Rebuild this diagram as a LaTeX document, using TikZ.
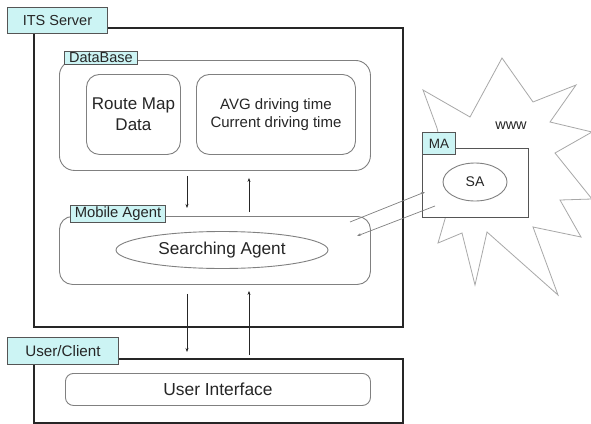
\documentclass[tikz,border=0pt]{standalone}
\usepackage{fontspec}
\setmainfont{Liberation Sans}
\usetikzlibrary{arrows.meta,shapes.geometric}
\definecolor{lblfill}{HTML}{CCF4F4}
\definecolor{edge}{HTML}{555555}
\definecolor{soft}{HTML}{808080}
\definecolor{starc}{HTML}{A8A8A8}
\begin{document}
\begin{tikzpicture}[x=1pt,y=-1pt,
  outer/.style={draw=black!85,line width=1.5pt,inner sep=0pt,anchor=north west},
  rbox/.style={draw=soft,line width=0.9pt,rounded corners=13pt,inner sep=0pt,anchor=north west,align=center,text=black!85},
  lbl/.style={draw=edge,fill=lblfill,line width=0.9pt,inner sep=0pt,anchor=north west,text=black!85},
  oval/.style={ellipse,draw=soft,line width=0.9pt,inner sep=0pt,text=black!85},
  arr/.style={draw=black!85,line width=0.8pt,-{Stealth[length=4pt,width=3pt]}},
  darr/.style={draw=soft,line width=0.7pt,-{Stealth[length=4pt,width=3pt]}},
  every node/.style={font=\fontsize{15pt}{18pt}\selectfont}]
\useasboundingbox[fill=white] (0,0) rectangle (591,423);

% star (www)
\draw[starc,line width=0.8pt,line join=miter]
 (502,58) -- (533,102) -- (576,85) -- (550,122) -- (592,132) -- (555,153)
 -- (592,199) -- (560,200) -- (581,237) -- (533,227) -- (558,295) -- (487,232)
 -- (475,285) -- (462,233) -- (438,243) -- (452,195) -- (437,128) -- (423,90)
 -- (470,117) -- cycle;
\node[text=black!85,font=\fontsize{14.5pt}{17pt}\selectfont] (www) at (511,126) {www};

% ITS server
\node[outer,minimum width=369pt,minimum height=299pt] (srv) at (33,27) {};
\node[lbl,minimum width=100pt,minimum height=26pt,font=\fontsize{14.5pt}{17pt}\selectfont] (srvlbl) at (7,7) {ITS Server};

% DataBase
\node[rbox,minimum width=311pt,minimum height=110pt,rounded corners=15pt] (db) at (59,60) {};
\node[lbl,minimum width=73pt,minimum height=13pt,font=\fontsize{14.5pt}{15pt}\selectfont] (dblbl) at (64,51) {DataBase};
\node[rbox,minimum width=94pt,minimum height=80pt,font=\fontsize{17pt}{20pt}\selectfont] (rmd) at (86,74) {};
\node[align=center,text=black!85,font=\fontsize{17pt}{21pt}\selectfont] (rmdt) at (rmd.center) {Route Map\\Data};
\node[rbox,minimum width=159pt,minimum height=80pt] (avg) at (196,74) {};
\node[align=center,text=black!85,font=\fontsize{15pt}{18pt}\selectfont] (avgt) at (avg.center) {AVG driving time\\Current driving time};

% Mobile Agent
\node[rbox,minimum width=311pt,minimum height=68pt] (ma) at (59,216) {};
\node[lbl,minimum width=95pt,minimum height=17pt,font=\fontsize{14.8pt}{16pt}\selectfont] (malbl) at (70,205) {Mobile Agent};
\node[oval,minimum width=212pt,minimum height=37pt,font=\fontsize{17.2pt}{20pt}\selectfont] (sagent) at (222,250) {Searching Agent};

% User / Client
\node[outer,minimum width=369pt,minimum height=64pt] (usr) at (33,358) {};
\node[lbl,minimum width=111pt,minimum height=27pt,font=\fontsize{15.2pt}{17pt}\selectfont] (usrlbl) at (7,337) {User/Client};
\node[rbox,minimum width=305pt,minimum height=32pt,rounded corners=8pt,font=\fontsize{17.4pt}{20pt}\selectfont] (ui) at (65,373) {User Interface};

% MA box in the www
\node[draw=edge,fill=white,line width=0.9pt,inner sep=0pt,anchor=north west,minimum width=106pt,minimum height=69pt] (mabox) at (422,148) {};
\node[lbl,minimum width=33pt,minimum height=22pt,font=\fontsize{13.5pt}{16pt}\selectfont] (mablbl) at (422,132) {MA};
\node[oval,minimum width=64pt,minimum height=38pt,font=\fontsize{14pt}{16pt}\selectfont] (sa) at (475,182) {SA};

% vertical arrows
\coordinate (c1) at (187,0);
\coordinate (c2) at (249,0);
\draw[arr] ([yshift=-5pt]db.south -| c1) -- ([yshift=8pt]ma.north -| c1);
\draw[arr] ([yshift=4pt]ma.north -| c2) -- ([yshift=-7pt]db.south -| c2);
\draw[arr] ([yshift=-9pt]ma.south -| c1) -- ([yshift=6pt]usr.north -| c1);
\draw[arr] ([yshift=3pt]usr.north -| c2) -- ([yshift=-6pt]ma.south -| c2);

% diagonal arrows between Mobile Agent and MA
\coordinate (d1s) at (350,222);
\coordinate (d1e) at (425,192);
\coordinate (d2s) at (435,206);
\coordinate (d2e) at (357,236);
\draw[darr] (d1s) -- (d1e);
\draw[darr] (d2s) -- (d2e);
\end{tikzpicture}
\end{document}
